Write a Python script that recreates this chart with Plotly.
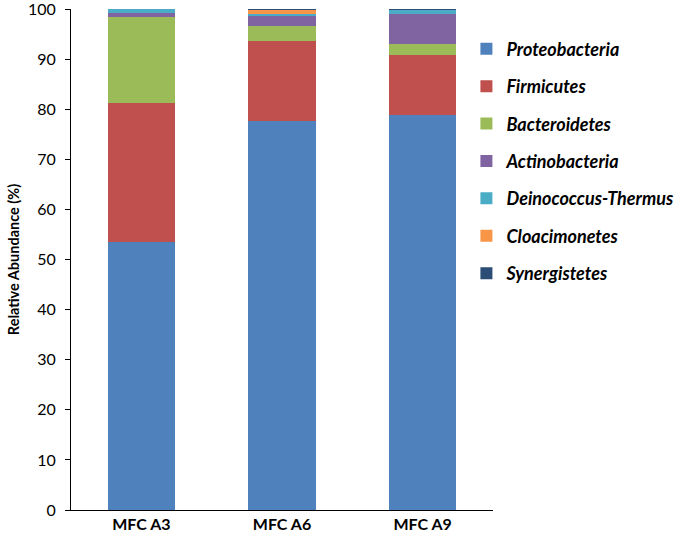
import plotly.graph_objects as go

samples = ["MFC A3", "MFC A6", "MFC A9"]
phyla = ["Proteobacteria", "Firmicutes", "Bacteroidetes", "Actinobacteria",
         "Deinococcus-Thermus", "Cloacimonetes", "Synergistetes"]
proteobacteria = [53.4, 77.6, 78.8]
firmicutes = [27.9, 16.1, 12.0]
bacteroidetes = [17.2, 3.0, 2.3]
actinobacteria = [0.7, 2.0, 5.9]
deinococcus = [0.8, 0.4, 0.9]
cloacimonetes = [0.0, 0.8, 0.0]
synergistetes = [0.0, 0.1, 0.1]
y_ticks = [0, 10, 20, 30, 40, 50, 60, 70, 80, 90, 100]
colors = ["#4F81BD", "#C0504D", "#9BBB59", "#8064A2", "#4BACC6", "#F79646", "#2C4D75"]

series = [proteobacteria, firmicutes, bacteroidetes, actinobacteria,
          deinococcus, cloacimonetes, synergistetes]

fig = go.Figure()
for name, values, color in zip(phyla, series, colors):
    fig.add_trace(go.Bar(
        x=samples, y=values, name=f"<b><i>{name}</i></b>",
        marker=dict(color=color, line=dict(width=0)),
        legendgroup=name,
    ))

fig.update_layout(
    barmode="stack",
    bargap=0.52,
    width=677, height=541,
    margin=dict(l=71, r=184, t=9, b=31, autoexpand=False),
    paper_bgcolor="white", plot_bgcolor="white",
    font=dict(family="Lato", size=15, color="black"),
    showlegend=True,
    legend=dict(
        x=0.937, xanchor="left", y=0.957, yanchor="top",
        traceorder="grouped", tracegroupgap=11,
        font=dict(size=18, color="black"),
        itemwidth=30,
    ),
)
fig.update_yaxes(
    range=[0, 100], tickvals=y_ticks, showgrid=False, zeroline=False,
    showline=True, linecolor="black", linewidth=1,
    ticks="outside", ticklen=5, tickcolor="black",
    ticklabelstandoff=6, ticklabeloverflow="allow",
    tickfont=dict(size=16, family="Lato"),
    tickprefix="<b>", ticksuffix="</b>",
    title=dict(text="<b>Relative Abundance (%)</b>", font=dict(size=14.5), standoff=4),
    automargin=False,
)
fig.update_xaxes(
    showgrid=False, showline=True, linecolor="black", linewidth=1,
    ticks="", tickfont=dict(size=16, family="Lato"),
    tickprefix="<b>", ticksuffix="</b>",
    automargin=False,
)

fig.write_html("out.html", config={"displayModeBar": False},
               post_script="document.body.style.margin='0';")
